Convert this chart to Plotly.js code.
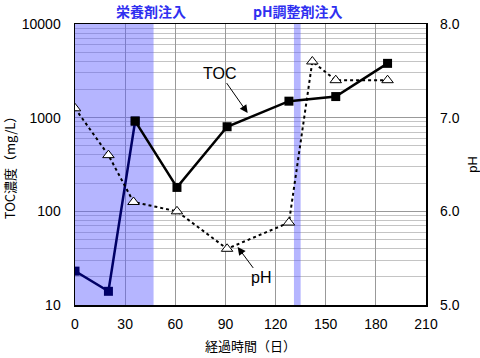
<!DOCTYPE html>
<html><head><meta charset="utf-8">
<script src="https://cdn.plot.ly/plotly-3.0.1.min.js"></script>
<style>html,body{margin:0;padding:0;background:#fff}#c{width:480px;height:358px}</style>
</head><body><div id="c"></div>
<script>
// TOC (mg/L)
const tocDaysA = [0, 20, 36];
const tocValsA = [23, 14, 920];
const tocDaysB = [36, 61, 91, 128, 156, 187];
const tocValsB = [920, 180, 800, 1500, 1680, 3800];
// pH
const phDays = [0, 20, 35, 61, 91, 128, 142, 156, 187];
const phVals = [7.1, 6.6, 6.1, 6.0, 5.6, 5.88, 7.6, 7.4, 7.4];
// shaded periods (days)
const shadeNutrient = [0, 47];
const shadePH = [131, 135];
// axes
const xTicks = [0, 30, 60, 90, 120, 150, 180, 210];
const tocTicks = [10, 100, 1000, 10000];
const phTicks = [5, 6, 7, 8];
const phTickText = ['5.0', '6.0', '7.0', '8.0'];

const font = 'Liberation Sans, Arial, "Noto Sans CJK JP", sans-serif';
const jfont = '"Noto Sans CJK JP", Liberation Sans, sans-serif';

const yLo = tocTicks[0], yHi = tocTicks[tocTicks.length - 1];
function band(r) {
  return {x: [r[0], r[1], r[1], r[0], r[0]], y: [yLo, yLo, yHi, yHi, yLo], yaxis: 'y',
    mode: 'lines', fill: 'toself', fillcolor: 'rgb(90,90,255)', opacity: 0.45, line: {width: 0},
    hoverinfo: 'skip'};
}

const traces = [
  band(shadeNutrient),
  band(shadePH),
  {x: tocDaysA, y: tocValsA, mode: 'lines+markers', yaxis: 'y',
   line: {color: '#000066', width: 2.5},
   marker: {symbol: 'square', size: 9, color: '#000066'}},
  {x: tocDaysB, y: tocValsB, mode: 'lines+markers', yaxis: 'y',
   line: {color: '#000000', width: 2.5},
   marker: {symbol: 'square', size: 9, color: '#000000'}},
  {x: phDays, y: phVals, mode: 'lines+markers', yaxis: 'y2',
   line: {color: '#000000', width: 2, dash: 'dot'},
   marker: {symbol: 'triangle-up', size: 10, color: '#ffffff', line: {color: '#000', width: 1}}}
];

const px2paper = p => (p - 75) / 351;

const layout = {
  width: 480, height: 358,
  margin: {l: 75, r: 54, t: 24, b: 53},
  paper_bgcolor: '#fff', plot_bgcolor: '#fff',
  showlegend: false,
  font: {family: font, size: 14, color: '#000'},
  xaxis: {range: [0, 210], tickvals: xTicks, ticks: '', ticklabelstandoff: 6,
    showgrid: true, gridcolor: '#999', gridwidth: 1,
    showline: true, linecolor: '#000', linewidth: 1.5, mirror: true, zeroline: false,
    title: {text: '経過時間（日）', font: {family: jfont, size: 13}, standoff: 10}},
  yaxis: {type: 'log', range: [1, 4], tickvals: tocTicks, ticktext: tocTicks.map(String),
    ticks: '', ticklabelstandoff: 10,
    showgrid: true, gridcolor: '#999', gridwidth: 1,
    minor: {showgrid: true, gridcolor: '#c4c4c4', gridwidth: 1, dtick: 'D1'},
    showline: true, linecolor: '#000', linewidth: 1.5, mirror: true, zeroline: false,
    title: {text: 'TOC濃度（mg/L）', font: {family: jfont, size: 13}, standoff: 12}},
  yaxis2: {overlaying: 'y', side: 'right', range: [5, 8], tickvals: phTicks,
    ticktext: phTickText, ticks: '', ticklabelstandoff: 13,
    showgrid: false, zeroline: false, showline: false,
    title: {text: 'pH', font: {family: font, size: 13}, standoff: 14}},
  annotations: [
    {text: '<b>栄養剤注入</b>', xref: 'paper', yref: 'paper', x: px2paper(114), y: 1, yanchor: 'bottom', yshift: 1,
     showarrow: false, font: {family: jfont, size: 14, color: '#2f2ff0'}},
    {text: '<b>pH調整剤注入</b>', xref: 'paper', yref: 'paper', x: px2paper(298), y: 1, yanchor: 'bottom', yshift: 1,
     showarrow: false, font: {family: jfont, size: 14, color: '#2f2ff0'}},
    {text: 'TOC', xref: 'x', yref: 'y', x: 103.3, y: 3.049, ax: -28, ay: -40,
     showarrow: true, arrowhead: 2, arrowsize: 1.6, arrowwidth: 1, arrowcolor: '#000',
     font: {family: font, size: 16}},
    {text: 'pH', xref: 'x', yref: 'y2', x: 97.3, y: 5.62, ax: 23, ay: 31,
     showarrow: true, arrowhead: 2, arrowsize: 1.6, arrowwidth: 1, arrowcolor: '#000',
     font: {family: font, size: 16}}
  ]
};

Plotly.newPlot('c', traces, layout, {displayModeBar: false, staticPlot: true});
</script></body></html>
